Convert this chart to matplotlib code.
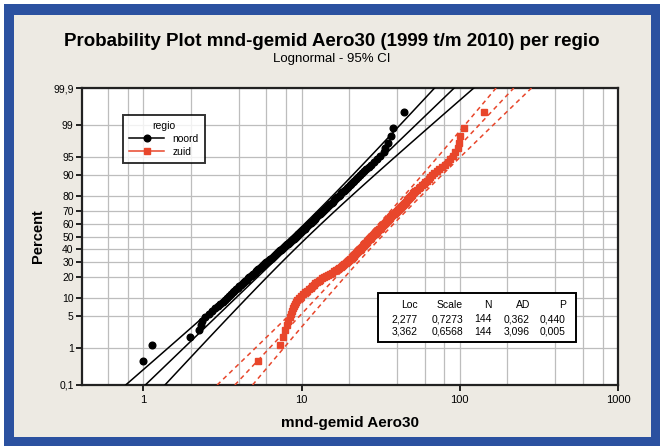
import matplotlib.pyplot as plt
import matplotlib.patches as patches
from matplotlib.lines import Line2D
from matplotlib.ticker import FixedLocator, NullFormatter
import numpy as np
from statistics import NormalDist

plt.rcParams['font.family'] = ['Liberation Sans', 'DejaVu Sans']

# ---------- data ----------
noord = [1.0, 1.14, 1.98, 2.25, 2.30, 2.34, 2.47, 2.60, 2.72, 2.84, 2.95, 3.06,
         3.17, 3.27, 3.37, 3.47, 3.57, 3.67, 3.77, 3.86, 3.95, 4.05, 4.14, 4.24,
         4.33, 4.42, 4.51, 4.60, 4.69, 4.79, 4.88, 4.97, 5.06, 5.15, 5.25, 5.34,
         5.43, 5.53, 5.62, 5.71, 5.81, 5.91, 6.00, 6.10, 6.20, 6.30, 6.39, 6.49,
         6.59, 6.70, 6.80, 6.90, 7.00, 7.11, 7.22, 7.32, 7.43, 7.54, 7.65, 7.76,
         7.87, 7.99, 8.10, 8.22, 8.33, 8.45, 8.57, 8.70, 8.82, 8.95, 9.08, 9.20,
         9.33, 9.45, 9.57, 9.69, 9.81, 9.94, 10.07, 10.20, 10.32, 10.46, 10.59, 10.73,
         10.87, 11.01, 11.15, 11.30, 11.45, 11.60, 11.76, 11.92, 12.08, 12.24, 12.41, 12.58,
         12.76, 12.94, 13.12, 13.31, 13.50, 13.70, 13.90, 14.12, 14.32, 14.54, 14.77, 14.99,
         15.24, 15.48, 15.74, 16.00, 16.28, 16.55, 16.84, 17.15, 17.47, 17.80, 18.14, 18.50,
         18.87, 19.27, 19.68, 20.12, 20.57, 21.06, 21.59, 22.14, 22.75, 23.38, 24.07, 24.82,
         25.63, 26.54, 27.54, 28.69, 29.97, 31.49, 33.28, 33.5, 35.0, 37.0, 37.8, 44.2]

zuid = [5.34, 7.36, 7.6, 7.85, 8.1, 8.26, 8.43, 8.6, 8.73, 8.86, 8.99, 9.12,
        9.26, 9.4, 9.66, 9.93, 10.21, 10.50, 10.79, 11.09, 11.4, 11.68, 11.96, 12.25,
        12.54, 12.85, 13.16, 13.47, 13.8, 14.23, 14.68, 15.14, 15.61, 16.10, 16.6, 16.96,
        17.33, 17.7, 18.01, 18.33, 18.65, 18.98, 19.31, 19.65, 20.0, 20.26, 20.51, 20.78,
        21.04, 21.31, 21.59, 21.86, 22.14, 22.43, 22.71, 23.00, 23.30, 23.60, 23.90, 24.2,
        24.46, 24.71, 24.97, 25.24, 25.50, 25.77, 26.05, 26.32, 26.6, 26.95, 27.30, 27.65,
        28.01, 28.38, 28.75, 29.12, 29.5, 29.84, 30.19, 30.54, 30.90, 31.26, 31.62, 31.99,
        32.36, 32.74, 33.12, 33.5, 33.90, 34.31, 34.72, 35.14, 35.56, 35.99, 36.42, 36.86,
        37.30, 37.75, 38.2, 38.77, 39.36, 39.95, 40.55, 41.16, 41.77, 42.40, 43.04, 43.68,
        44.34, 45.0, 45.65, 46.31, 46.98, 47.66, 48.35, 49.05, 49.75, 50.47, 51.2, 52.46,
        53.74, 55.06, 56.41, 57.80, 59.22, 60.67, 62.16, 63.69, 65.25, 66.85, 68.5, 71.35,
        74.32, 77.41, 80.63, 84.0, 87.1, 90.3, 93.6, 97.0, 99.0, 101.0, 106.0, 142.0]

groups = ['noord', 'zuid']
locs = [2.277, 3.362]
scales = [0.7273, 0.6568]
counts = [144, 144]
ad_vals = ['0,362', '3,096']
p_vals = ['0,440', '0,005']

pct_ticks = [0.1, 1, 5, 10, 20, 30, 40, 50, 60, 70, 80, 90, 95, 99, 99.9]
pct_labels = ['0,1', '1', '5', '10', '20', '30', '40', '50', '60', '70',
              '80', '90', '95', '99', '99,9']

nd = NormalDist()

def zq(p):
    return np.array([nd.inv_cdf(v) for v in np.atleast_1d(p)])

# ---------- figure + frame ----------
W, H = 663, 447
fig = plt.figure(figsize=(W / 100, H / 100), dpi=100, facecolor='white')

def box(x0, y0, x1, y1, **kw):
    # pixel coords (top-left origin) -> figure rectangle
    r = patches.Rectangle((x0 / W, 1 - y1 / H), (x1 - x0) / W, (y1 - y0) / H,
                          transform=fig.transFigure, **kw)
    fig.add_artist(r)
    return r

box(4, 4, 660, 446, facecolor='#2b51a0', edgecolor='none', zorder=-20)
box(14, 15, 651, 437, facecolor='#edeae3', edgecolor='none', zorder=-19)

ax = fig.add_axes([82 / W, 1 - 385 / H, (618 - 82) / W, (385 - 88) / H])
ax.set_facecolor('white')

colors = ['black', '#e8462b']
markers = ['o', 's']
msizes = [4.8, 5.0]
lstyles = ['-', (0, (3, 2.5))]

zz = np.linspace(zq(0.001)[0], zq(0.999)[0], 60)
zc = nd.inv_cdf(0.975)

for data, loc, sc, n, c, m, ms, ls in zip([noord, zuid], locs, scales, counts,
                                           colors, markers, msizes, lstyles):
    vals = np.sort(np.array(data))
    pos = (np.arange(1, len(vals) + 1) - 0.3) / (len(vals) + 0.4)
    q = loc + sc * zz
    se = sc * np.sqrt(1 / n + zz ** 2 / (2 * n))
    lw = 1.1
    ax.plot(np.exp(q), zz, color=c, lw=lw, ls=ls, zorder=3)
    ax.plot(np.exp(q - zc * se), zz, color=c, lw=lw, ls=ls, zorder=3)
    ax.plot(np.exp(q + zc * se), zz, color=c, lw=lw, ls=ls, zorder=3)
    ax.plot(vals, zq(pos), ls='none', marker=m, ms=ms, color=c,
            markeredgecolor=c, zorder=4)

# ---------- axes ----------
ax.set_xscale('log')
ax.set_xlim(0.41, 1000)
ax.set_ylim(zq(0.001)[0], zq(0.999)[0])
ax.set_yticks(zq(np.array(pct_ticks) / 100))
ax.set_yticklabels(pct_labels)
ax.set_xticks([1, 10, 100, 1000])
ax.set_xticklabels(['1', '10', '100', '1000'])
ax.xaxis.set_minor_locator(FixedLocator([0.6, 0.8, 2, 4, 6, 8, 20, 40, 60, 80,
                                         200, 400, 600, 800]))
ax.xaxis.set_minor_formatter(NullFormatter())
ax.tick_params(axis='y', which='major', direction='out', length=4,
               width=1.2, labelsize=7.5, pad=2)
ax.tick_params(axis='x', which='major', direction='out', length=4,
               width=1.2, labelsize=8, pad=3)
ax.tick_params(axis='x', which='minor', length=0)
ax.grid(True, which='both', axis='x', color='#bdbdbd', lw=0.9)
ax.grid(True, which='major', axis='y', color='#bdbdbd', lw=0.9)
ax.set_axisbelow(True)
for s in ax.spines.values():
    s.set_linewidth(1.6)
    s.set_color('#222222')

ax.set_xlabel('mnd-gemid Aero30', fontsize=11, fontweight='bold', labelpad=8)
ax.set_ylabel('Percent', fontsize=10.5, fontweight='bold', labelpad=6)

fig.text(0.5, 1 - 42 / H, 'Probability Plot mnd-gemid Aero30 (1999 t/m 2010) per regio',
         ha='center', va='center', fontsize=13.5, fontweight='bold')
fig.text(0.5, 1 - 59 / H, 'Lognormal - 95% CI', ha='center', va='center',
         fontsize=9.5)

# ---------- legend ----------
handles = [Line2D([], [], color=c, marker=m, ms=ms, ls='-', lw=1.1)
           for c, m, ms in zip(colors, markers, msizes)]
leg = ax.legend(handles, groups, title='regio', loc='upper left',
                bbox_to_anchor=(0.067, 0.927), fontsize=7.5, title_fontsize=7.5,
                frameon=True, fancybox=False, handlelength=3.4,
                borderpad=0.55, labelspacing=0.3)
leg.get_frame().set_edgecolor('black')
leg.get_frame().set_linewidth(1.4)

# ---------- stats table ----------
box(378, 293, 576, 342, facecolor='white', edgecolor='black', lw=1.4, zorder=5)
col_x = [418, 463, 492, 530, 566]
head = ['Loc', 'Scale', 'N', 'AD', 'P']
rows = [head]
for loc, sc, n, ad, p in zip(locs, scales, counts, ad_vals, p_vals):
    rows.append([f'{loc:.3f}'.replace('.', ','), f'{sc:.4f}'.replace('.', ','),
                 str(n), ad, p])
for r, yy in zip(rows, [305, 319, 332]):
    for t, xx in zip(r, col_x):
        fig.text(xx / W, 1 - yy / H, t, ha='right', va='center', fontsize=7.5,
                 zorder=6)

fig.savefig('out.png', dpi=100, facecolor=fig.get_facecolor())
